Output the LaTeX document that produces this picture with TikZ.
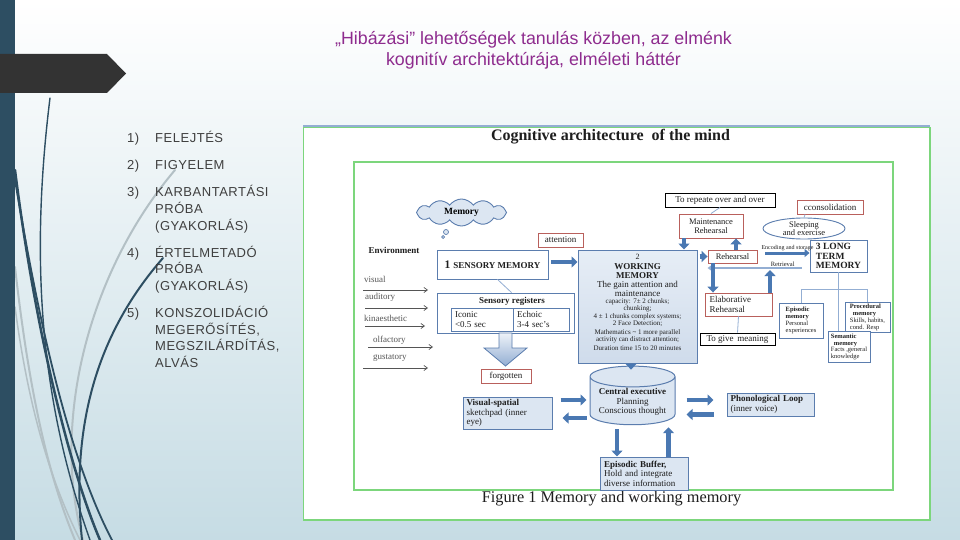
\documentclass[tikz,border=0pt]{standalone}
\usepackage{fontspec}
\setmainfont{Liberation Serif}
\setsansfont{Liberation Sans}
\newfontfamily\listfont{Liberation Sans}[LetterSpace=4]
\usetikzlibrary{shapes.geometric,shapes.symbols,arrows.meta}

\definecolor{slatebar}{HTML}{2D4E62}
\definecolor{bannergray}{HTML}{333333}
\definecolor{titlepurple}{HTML}{8E2C8E}
\definecolor{listgray}{HTML}{3F3F3F}
\definecolor{bgblue}{HTML}{C6DCE4}
\definecolor{bgmid}{HTML}{E8F1F4}
\definecolor{swgray}{HTML}{B3C0C5}
\definecolor{figgreen}{HTML}{7CD67C}
\definecolor{boxred}{HTML}{B9605C}
\definecolor{boxblue}{HTML}{5B7DAE}
\definecolor{fillblue}{HTML}{DCE6F2}
\definecolor{arrblue}{HTML}{4A78B2}
\definecolor{linblue}{HTML}{93AED3}
\definecolor{figtext}{HTML}{1E1E1E}
\definecolor{senscol}{HTML}{555555}

\tikzset{
  fignode/.style={font=\fontsize{9}{9.5}\selectfont, text=figtext, inner sep=1pt, align=center},
  redbox/.style={fignode, draw=boxred, line width=0.9pt, fill=white},
  blackbox/.style={fignode, draw=black, line width=0.9pt, fill=white},
  bluebox/.style={fignode, draw=boxblue, line width=0.9pt, fill=white},
  lbbox/.style={fignode, draw=boxblue, line width=1pt, fill=fillblue},
  smallbox/.style={bluebox, font=\fontsize{6.5}{6.8}\selectfont, align=left, inner sep=2pt},
  bigarr/.style={draw=arrblue, line width=4.5pt, -{Triangle[length=6pt,width=11pt]}},
  midarr/.style={draw=arrblue, line width=3pt, -{Triangle[length=5pt,width=8pt]}},
  retarr/.style={draw=linblue, line width=2.5pt, -{Triangle[length=5pt,width=7pt]}},
  thinln/.style={draw=linblue, line width=0.8pt},
  sensarr/.style={draw=senscol, line width=0.7pt, -{Straight Barb[length=3.5pt,width=5pt]}},
  senslab/.style={font=\fontsize{9}{9}\selectfont, text=senscol, inner sep=0pt, anchor=west},
  wmline/.style={font=\fontsize{7}{7}\selectfont, text=figtext, inner sep=0pt, anchor=base},
  listtxt/.style={font=\listfont\fontsize{13}{13}\selectfont, text=listgray, inner sep=0pt, anchor=base west},
  swdark/.style={draw=slatebar, line cap=round},
  swlight/.style={draw=swgray, line cap=round},
}

\begin{document}
\begin{tikzpicture}[x=1pt,y=-1pt]
\useasboundingbox (0,0) rectangle (960,540);
\shade[top color=white, middle color=bgmid, bottom color=bgblue] (0,0) rectangle (960,540);

% swooshes
\draw[swlight, line width=2pt] (175,170) .. controls (90,270) and (50,420) .. (83,540);
\draw[swlight, line width=2pt] (15,267) .. controls (30,400) and (50,480) .. (75,540);
\draw[swlight, line width=1.5pt] (15,307) .. controls (30,420) and (55,490) .. (80,540);
\draw[swdark, line width=2.5pt] (15,170) .. controls (35,330) and (70,470) .. (100,540);
\draw[swdark, line width=1.8pt] (15,180) .. controls (40,330) and (70,460) .. (112,540);
\draw[swdark, line width=1.4pt] (50,98) .. controls (30,260) and (40,400) .. (90,540);
\draw[swdark, line width=2pt] (163,258) .. controls (100,330) and (70,420) .. (82,540);

% left bar and banner
\fill[slatebar] (0,0) rectangle (15,540);
\fill[bannergray] (0,54) -- (107,54) -- (126,73.5) -- (107,93) -- (0,93) -- cycle;

% title
\node[font=\sffamily\fontsize{17.8}{21}\selectfont, text=titlepurple, align=center] (title) at (533.5,50.5)
  {„Hibázási” lehetőségek tanulás közben, az elménk\\kognitív architektúrája, elméleti háttér};

% list
\node[listtxt] (n1) at (127,142.5) {1)};
\node[listtxt] (t1) at (155,142.5) {FELEJTÉS};
\node[listtxt] (n2) at (127,169.5) {2)};
\node[listtxt] (t2) at (155,169.5) {FIGYELEM};
\node[listtxt] (n3) at (127,196.5) {3)};
\node[listtxt] (t3a) at (155,196.5) {KARBANTARTÁSI};
\node[listtxt] (t3b) at (155,213.5) {PRÓBA};
\node[listtxt] (t3c) at (155,230.5) {(GYAKORLÁS)};
\node[listtxt] (n4) at (127,257) {4)};
\node[listtxt] (t4a) at (155,257) {ÉRTELMETADÓ};
\node[listtxt] (t4b) at (155,273.5) {PRÓBA};
\node[listtxt] (t4c) at (155,290.5) {(GYAKORLÁS)};
\node[listtxt] (n5) at (127,317.5) {5)};
\node[listtxt] (t5a) at (155,317.5) {KONSZOLIDÁCIÓ};
\node[listtxt] (t5b) at (155,334) {MEGERŐSÍTÉS,};
\node[listtxt] (t5c) at (155,350.5) {MEGSZILÁRDÍTÁS,};
\node[listtxt] (t5d) at (155,367.5) {ALVÁS};

% figure frame
\draw[linblue, line width=1.5pt] (303,126) -- (930,126);
\draw[figgreen, line width=1.5pt, fill=white] (303.5,127.5) rectangle (930,520);
\draw[figgreen, line width=1.3pt] (354,162) rectangle (893,490);

\node[font=\bfseries\fontsize{16}{16}\selectfont, text=figtext] (ftitle) at (610.5,137) {Cognitive architecture\enspace of the mind};
\node[font=\fontsize{16.3}{16.3}\selectfont, text=figtext] (fcap) at (611.5,499) {Figure 1 Memory and working memory};

% cloud
\node[cloud, cloud puffs=12, cloud puff arc=110, aspect=3.2, draw=boxblue, line width=0.9pt, fill=fillblue,
      minimum width=90pt, minimum height=27pt, inner sep=0pt, font=\bfseries\fontsize{9.5}{9.5}\selectfont] (mem) at (461.5,212.5) {Memory};
\node[circle, draw=boxblue, fill=fillblue, line width=0.7pt, minimum size=5pt, inner sep=0pt] (tb1) at (446,232) {};
\node[circle, draw=boxblue, fill=fillblue, line width=0.7pt, minimum size=3pt, inner sep=0pt] (tb2) at (443,237) {};

\node[redbox, minimum width=45pt, minimum height=14pt] (att) at (560.5,240) {attention};
\node[fignode, font=\bfseries\fontsize{9}{9}\selectfont] (env) at (394,250) {Environment};

% senses
\node[senslab] (lv) at (364,279) {visual};
\node[senslab] (la) at (365,297) {auditory};
\node[senslab] (lk) at (364,318) {kinaesthetic};
\node[senslab] (lo) at (373,340) {olfactory};
\node[senslab] (lg) at (373,358) {gustatory};
\coordinate (v1) at (363,290); \coordinate (v2) at (428,290);
\coordinate (a1) at (365,308); \coordinate (a2) at (428,308);
\coordinate (k1) at (365,326); \coordinate (k2) at (425,326);
\coordinate (o1) at (368,347); \coordinate (o2) at (433,347);
\coordinate (g1) at (363,368); \coordinate (g2) at (428,368);
\draw[sensarr] (v1) -- (v2);
\draw[sensarr] (a1) -- (a2);
\draw[sensarr] (k1) -- (k2);
\draw[sensarr] (o1) -- (o2);
\draw[sensarr] (g1) -- (g2);

% sensory memory
\node[bluebox, minimum width=111pt, minimum height=29pt, font=\bfseries] (sm) at (492.5,264.5)
  {\fontsize{11.5}{11.5}\selectfont 1 \fontsize{9}{9}\selectfont SENSORY MEMORY};
\node[bluebox, minimum width=137pt, minimum height=40pt] (sr) at (505.5,313) {};
\node[fignode, font=\bfseries\fontsize{9}{9}\selectfont] (srt) at (512,301) {Sensory registers};
\node[bluebox, minimum width=62pt, minimum height=23pt, align=left, text width=54pt] (ico) at (482,319.5) {Iconic\\<0.5 sec};
\node[bluebox, minimum width=56pt, minimum height=23pt, align=left, text width=48pt] (ech) at (541,319.5) {Echoic\\3-4 sec's};
\draw[thinln] ([xshift=5pt]sm.south) -- ([xshift=6pt]sr.north);
\draw[draw=boxblue, line width=0.8pt, top color=fillblue!50!white, bottom color=linblue]
  (499,333) -- (512,333) -- (512,348) -- (527,348) -- (505.5,366) -- (484,348) -- (499,348) -- cycle;
\node[redbox, minimum width=50pt, minimum height=14pt] (fg) at (506,376) {forgotten};

% working memory
\node[draw=boxblue, line width=1pt, top color=fillblue!70!white, bottom color=fillblue!90!boxblue, minimum width=119pt, minimum height=113pt] (wm) at (637.5,306.5) {};
\node[wmline, font=\fontsize{8}{8}\selectfont] (w1) at (637.5,259) {2};
\node[wmline, font=\bfseries\fontsize{9}{9}\selectfont] (w2) at (637.5,269) {WORKING};
\node[wmline, font=\bfseries\fontsize{9}{9}\selectfont] (w3) at (637.5,278) {MEMORY};
\node[wmline, font=\fontsize{9}{9}\selectfont] (w4) at (637.5,287) {The gain attention and};
\node[wmline, font=\fontsize{9}{9}\selectfont] (w5) at (637.5,296) {maintenance};
\node[wmline] (w6) at (637.5,303.5) {capacity: 7± 2 chunks;};
\node[wmline] (w7) at (637.5,310.5) {chunking;};
\node[wmline] (w8) at (637.5,318.5) {4 ± 1 chunks complex systems;};
\node[wmline] (w9) at (637.5,325.5) {2 Face Detection;};
\node[wmline] (w10) at (637.5,334.5) {Mathematics \textasciitilde{} 1 more parallel};
\node[wmline] (w11) at (637.5,341.5) {activity can distract attention;};
\node[wmline] (w12) at (637.5,350.5) {Duration time 15 to 20 minutes};

% rehearsal cluster
\node[blackbox, minimum width=110pt, minimum height=14pt] (rep) at (720,200) {To repeate over and over};
\node[redbox, minimum width=64pt, minimum height=24pt, font=\fontsize{8.5}{9}\selectfont] (mr) at (711,226) {Maintenance\\Rehearsal};
\node[redbox, minimum width=49pt, minimum height=13pt, font=\fontsize{8.5}{8.5}\selectfont] (reh) at (732.5,256.5) {Rehearsal};
\node[redbox, minimum width=67pt, minimum height=23pt, align=left, text width=58pt] (er) at (738.5,304.5) {Elaborative\\Rehearsal};
\node[blackbox, minimum width=75pt, minimum height=12pt] (gm) at (737.5,339) {To give\, meaning};
\draw[thinln] (rep.south) -- (mr.north);
\draw[thinln] (er.south) -- (gm.north);

% long term memory
\node[bluebox, minimum width=57pt, minimum height=32pt, align=left, font=\bfseries\fontsize{9.5}{9.5}\selectfont] (ltm) at (838.5,256) {3 LONG\\TERM\\MEMORY};
\node[ellipse, draw=boxblue, line width=0.9pt, fill=white, minimum width=82pt, minimum height=21pt, inner sep=0pt, align=center, font=\fontsize{8.5}{8.5}\selectfont, text=figtext] (sleep) at (804,228.5) {Sleeping\\and exercise};
\node[redbox, minimum width=66pt, minimum height=14pt] (cons) at (830,207) {cconsolidation};
\draw[thinln] ([xshift=-25pt]cons.south) -- (sleep.north);

\node[smallbox, minimum width=44pt, minimum height=35pt] (epi) at (801,320.5) {\textbf{Episodic}\\\textbf{memory}\\Personal\\experiences};
\node[smallbox, minimum width=45pt, minimum height=29pt] (proc) at (867.5,317.5) {\textbf{Procedural}\\\hspace*{3pt}\textbf{memory}\\Skills, habits,\\cond. Resp};
\node[smallbox, minimum width=42pt, minimum height=28pt] (sem) at (849,347) {\textbf{Semantic}\\\hspace*{3pt}\textbf{memory}\\Facts ,general\\knowledge};
\draw[thinln] (ltm.south) -- (ltm.south |- sem.north);
\draw[thinln] (epi.north) -- ([yshift=13pt]epi.north) -| (proc.north);

% central executive etc.
\node[fignode, cylinder, shape border rotate=90, aspect=0.3, draw=boxblue, line width=1pt, fill=fillblue,
      minimum width=85pt, minimum height=50pt] (ce) at (632.5,402) {\textbf{Central executive}\\Planning\\Conscious thought};
\node[lbbox, minimum width=89pt, minimum height=32pt, align=left, text width=82pt] (vs) at (507.5,413) {\textbf{Visual-spatial}\\sketchpad (inner\\eye)};
\node[lbbox, minimum width=87pt, minimum height=23pt, align=left, text width=80pt] (pl) at (770.5,404.5) {\textbf{Phonological Loop}\\(inner voice)};
\node[lbbox, minimum width=88pt, minimum height=33pt, align=left, text width=80pt] (eb) at (644,473.5) {\textbf{Episodic Buffer,}\\Hold and integrate\\diverse information};

% thick arrows
\draw[bigarr] ([xshift=3pt,yshift=2.5pt]sm.east) -- ([yshift=2.5pt]sm.east -| wm.west);
\draw[bigarr] ([xshift=-27pt]mr.south) -- ([xshift=-27pt]mr.south |- wm.north);
\draw[bigarr] ([xshift=3.5pt]reh.north) -- ([xshift=3.5pt]reh.north |- mr.south);
\draw[bigarr] ([xshift=2pt]reh.west -| wm.east) -- (reh.west);
\draw[midarr] ([xshift=8pt,yshift=3.5pt]reh.east) -- node[above=0.5pt, font=\fontsize{6}{6}\selectfont, text=figtext, inner sep=0pt] (enc) {Encoding and storage} ([yshift=3.5pt]reh.east -| ltm.west);
\coordinate (rtail) at ([xshift=-8pt,yshift=-12pt]ltm.west);
\coordinate (rhead) at (reh.west |- rtail);
\draw[retarr] (rtail) -- node[pos=0.2, above=0.5pt, font=\fontsize{6.5}{6.5}\selectfont, text=figtext, inner sep=0pt] (ret) {Retrieval} (rhead);
\draw[bigarr] ([xshift=-19.5pt]reh.south) -- ([xshift=-19.5pt]reh.south |- er.north);
\draw[bigarr] ([xshift=31.5pt]er.north) -- ([xshift=31.5pt,yshift=-2pt]er.north |- rtail);
\draw[bigarr] ([xshift=-6.5pt]wm.south) -- ([xshift=-6.5pt,yshift=-4pt]wm.south |- ce.north);
\draw[bigarr] ([xshift=8pt,yshift=13pt]vs.east) -- ([xshift=-3pt,yshift=13pt]vs.east -| ce.west);
\draw[bigarr] ([xshift=-3pt,yshift=-5pt]vs.east -| ce.west) -- ([xshift=10pt,yshift=-5pt]vs.east);
\draw[bigarr] ([xshift=11pt,yshift=2pt]ce.east) -- ([xshift=-13pt,yshift=2pt]pl.west |- ce.east);
\draw[bigarr] ([xshift=-13pt,yshift=-10pt]pl.west) -- ([xshift=11pt,yshift=-10pt]pl.west -| ce.east);
\draw[bigarr] ([xshift=-15.5pt,yshift=-4pt]ce.south) -- ([xshift=-15.5pt]ce.south |- eb.north);
\draw[bigarr] ([xshift=24.5pt]eb.north) -- ([xshift=24.5pt,yshift=-2pt]eb.north |- ce.south);
\end{tikzpicture}
\end{document}
